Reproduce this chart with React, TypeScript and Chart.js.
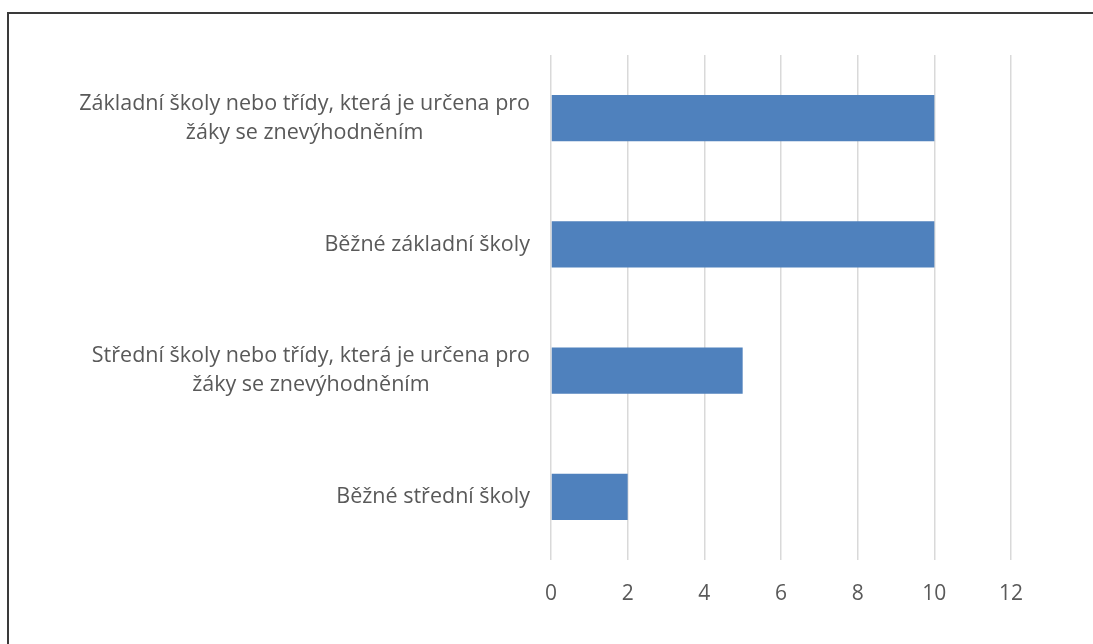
import React, { useEffect, useRef } from "react";
import { Chart, registerables } from "chart.js";

Chart.register(...registerables);

const categoryLines: string[][] = [
  ["Základní školy nebo třídy, která je určena pro", "žáky se znevýhodněním"],
  ["Běžné základní školy"],
  ["Střední školy nebo třídy, která je určena pro", "žáky se znevýhodněním"],
  ["Běžné střední školy"],
];
const values: number[] = [10, 10, 5, 2];
const xMin = 0;
const xMax = 12;
const xStep = 2;

const FONT_FAMILY = '"Open Sans", "Noto Sans", sans-serif';
const LABEL_SIZE = 21.5;
const LABEL_LH = 29;
const LABEL_GAP = 21;
const TEXT_COLOR = "#595959";

const yLabelPlugin = {
  id: "yLabelsCentered",
  afterDraw(chart: any) {
    const ctx = chart.ctx;
    const yScale = chart.scales.y;
    ctx.save();
    ctx.font = `${LABEL_SIZE}px ${FONT_FAMILY}`;
    ctx.fillStyle = TEXT_COLOR;
    ctx.textBaseline = "middle";
    ctx.textAlign = "center";
    categoryLines.forEach((lines, i) => {
      const cy = yScale.getPixelForValue(i);
      const w = Math.max(...lines.map((l) => ctx.measureText(l).width));
      const cx = chart.chartArea.left - LABEL_GAP - w / 2;
      lines.forEach((l, j) => {
        ctx.fillText(l, cx, cy + (j - (lines.length - 1) / 2) * LABEL_LH);
      });
    });
    ctx.restore();
  },
};

export default function App() {
  const canvasRef = useRef<HTMLCanvasElement | null>(null);

  useEffect(() => {
    if (!canvasRef.current) return;
    const chart = new Chart(canvasRef.current, {
      type: "bar",
      data: {
        labels: categoryLines.map((l) => l.join(" ")),
        datasets: [
          {
            data: values,
            backgroundColor: "#4f81bd",
            borderWidth: 0,
            categoryPercentage: 1,
            barPercentage: 0.365,
          },
        ],
      },
      options: {
        indexAxis: "y",
        animation: false,
        responsive: false,
        maintainAspectRatio: false,
        layout: { padding: { top: 55, right: 82, left: 0, bottom: 0 } },
        plugins: {
          legend: { display: false },
          tooltip: { enabled: false },
          title: { display: false },
        },
        scales: {
          x: {
            type: "linear",
            min: xMin,
            max: xMax,
            ticks: {
              stepSize: xStep,
              color: TEXT_COLOR,
              font: { family: FONT_FAMILY, size: 21 },
              padding: 21,
            },
            grid: { color: "#d9d9d9", lineWidth: 1.5, drawTicks: false },
            border: { display: false },
            afterFit: (s: any) => {
              s.height = 84;
            },
          },
          y: {
            type: "category",
            ticks: { display: false },
            grid: { display: false },
            border: { display: false },
            afterFit: (s: any) => {
              s.width = 551;
            },
          },
        },
      },
      plugins: [yLabelPlugin],
    } as any);
    return () => chart.destroy();
  }, []);

  return (
    <div
      style={{
        position: "fixed",
        left: 0,
        top: 0,
        width: 1093,
        height: 644,
        background: "#ffffff",
        overflow: "hidden",
      }}
    >
      <canvas
        ref={canvasRef}
        width={1093}
        height={644}
        style={{ position: "absolute", left: 0, top: 0, width: 1093, height: 644 }}
      />
      <div
        style={{
          position: "absolute",
          left: 7,
          top: 12,
          width: 1200,
          height: 800,
          borderLeft: "2px solid #3a3a3a",
          borderTop: "2px solid #3a3a3a",
          pointerEvents: "none",
        }}
      />
    </div>
  );
}
